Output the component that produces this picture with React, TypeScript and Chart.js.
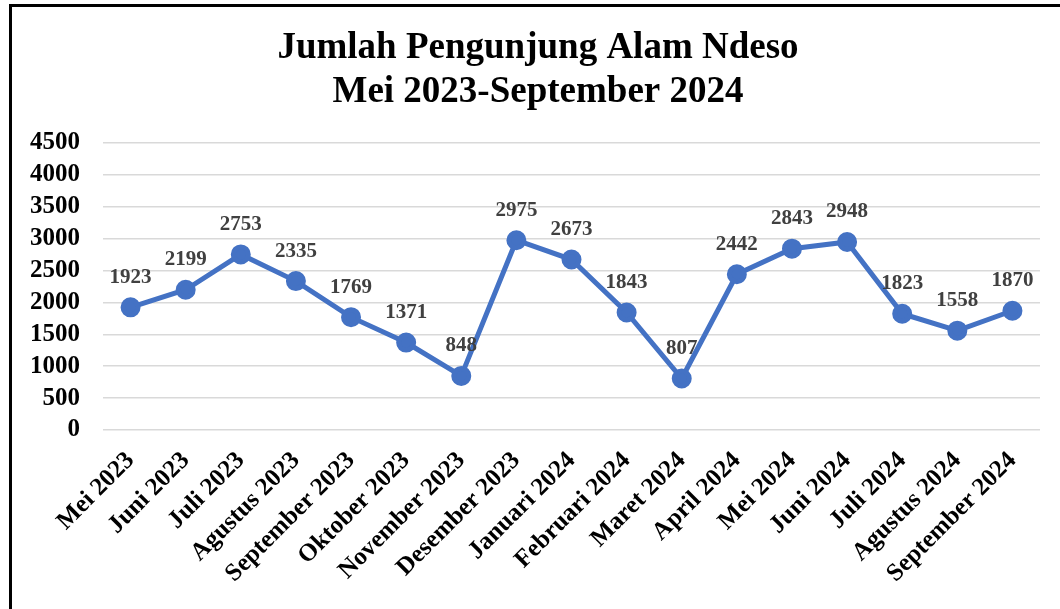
import React, { useEffect, useRef } from "react";
import { Chart, registerables } from "chart.js";

Chart.register(...registerables);

const TITLE_LINES = ["Jumlah Pengunjung Alam Ndeso", "Mei 2023-September 2024"];
const CATEGORIES = [
  "Mei 2023", "Juni 2023", "Juli 2023", "Agustus 2023", "September 2023",
  "Oktober 2023", "November 2023", "Desember 2023", "Januari 2024",
  "Februari 2024", "Maret 2024", "April 2024", "Mei 2024", "Juni 2024",
  "Juli 2024", "Agustus 2024", "September 2024",
];
const VISITORS = [1923, 2199, 2753, 2335, 1769, 1371, 848, 2975, 2673, 1843, 807, 2442, 2843, 2948, 1823, 1558, 1870];
const Y_MIN = 0;
const Y_MAX = 4500;
const Y_STEP = 500;

const SERIF = "'Liberation Serif', 'Times New Roman', serif";

const titlePlugin = {
  id: "customTitle",
  afterDraw(chart: any) {
    const ctx = chart.ctx;
    ctx.save();
    ctx.fillStyle = "#000";
    ctx.font = `bold 37px ${SERIF}`;
    ctx.textAlign = "center";
    ctx.textBaseline = "middle";
    ctx.fillText(TITLE_LINES[0], 538, 48);
    ctx.fillText(TITLE_LINES[1], 538, 92);
    ctx.restore();
  },
};

const labelPlugin = {
  id: "pointLabels",
  afterDatasetsDraw(chart: any) {
    const ctx = chart.ctx;
    const meta = chart.getDatasetMeta(0);
    ctx.save();
    ctx.fillStyle = "#404040";
    ctx.font = `bold 21px ${SERIF}`;
    ctx.textAlign = "center";
    ctx.textBaseline = "middle";
    meta.data.forEach((pt: any, i: number) => {
      ctx.fillText(String(VISITORS[i]), pt.x, pt.y - 30);
    });
    ctx.restore();
  },
};

export default function App() {
  const ref = useRef<HTMLCanvasElement>(null);
  useEffect(() => {
    if (!ref.current) return;
    const chart = new Chart(ref.current, {
      type: "line",
      data: {
        labels: CATEGORIES,
        datasets: [
          {
            data: VISITORS,
            borderColor: "#4472C4",
            backgroundColor: "#4472C4",
            borderWidth: 5,
            pointRadius: 7.5,
            pointBackgroundColor: "#4472C4",
            pointBorderColor: "#4472C4",
            tension: 0,
          },
        ],
      },
      options: {
        animation: false,
        responsive: false,
        maintainAspectRatio: false,
        layout: { padding: { top: 143, left: 0, right: 20, bottom: 0 } },
        plugins: {
          legend: { display: false },
          title: { display: false },
          tooltip: { enabled: false },
        },
        scales: {
          x: {
            offset: true,
            grid: { display: false, drawTicks: false },
            border: { display: false },
            afterFit: (s: any) => { s.height = 179; },
            ticks: {
              minRotation: 45,
              maxRotation: 45,
              autoSkip: false,
              padding: 16,
              color: "#000",
              font: { family: SERIF, size: 25, weight: "bold" },
            },
          },
          y: {
            min: Y_MIN,
            max: Y_MAX,
            afterFit: (s: any) => { s.width = 103; },
            grid: { color: "#d9d9d9", lineWidth: 1.5, drawTicks: false },
            border: { display: false },
            ticks: {
              stepSize: Y_STEP,
              autoSkip: false,
              maxTicksLimit: 20,
              padding: 23,
              color: "#000",
              font: { family: SERIF, size: 25, weight: "bold" },
              callback: (v: any) => String(v),
            },
          },
        },
      },
      plugins: [titlePlugin, labelPlugin],
    });
    return () => chart.destroy();
  }, []);
  return (
    <div style={{ position: "fixed", left: 0, top: 0, width: 1060, height: 609, overflow: "hidden", background: "#fff" }}>
      <canvas ref={ref} width={1060} height={609} style={{ position: "absolute", left: 0, top: 0, width: 1060, height: 609 }} />
      <div style={{ position: "absolute", left: 9, top: 4, width: 1200, height: 800, border: "3px solid #000", boxSizing: "border-box", pointerEvents: "none" }} />
    </div>
  );
}
